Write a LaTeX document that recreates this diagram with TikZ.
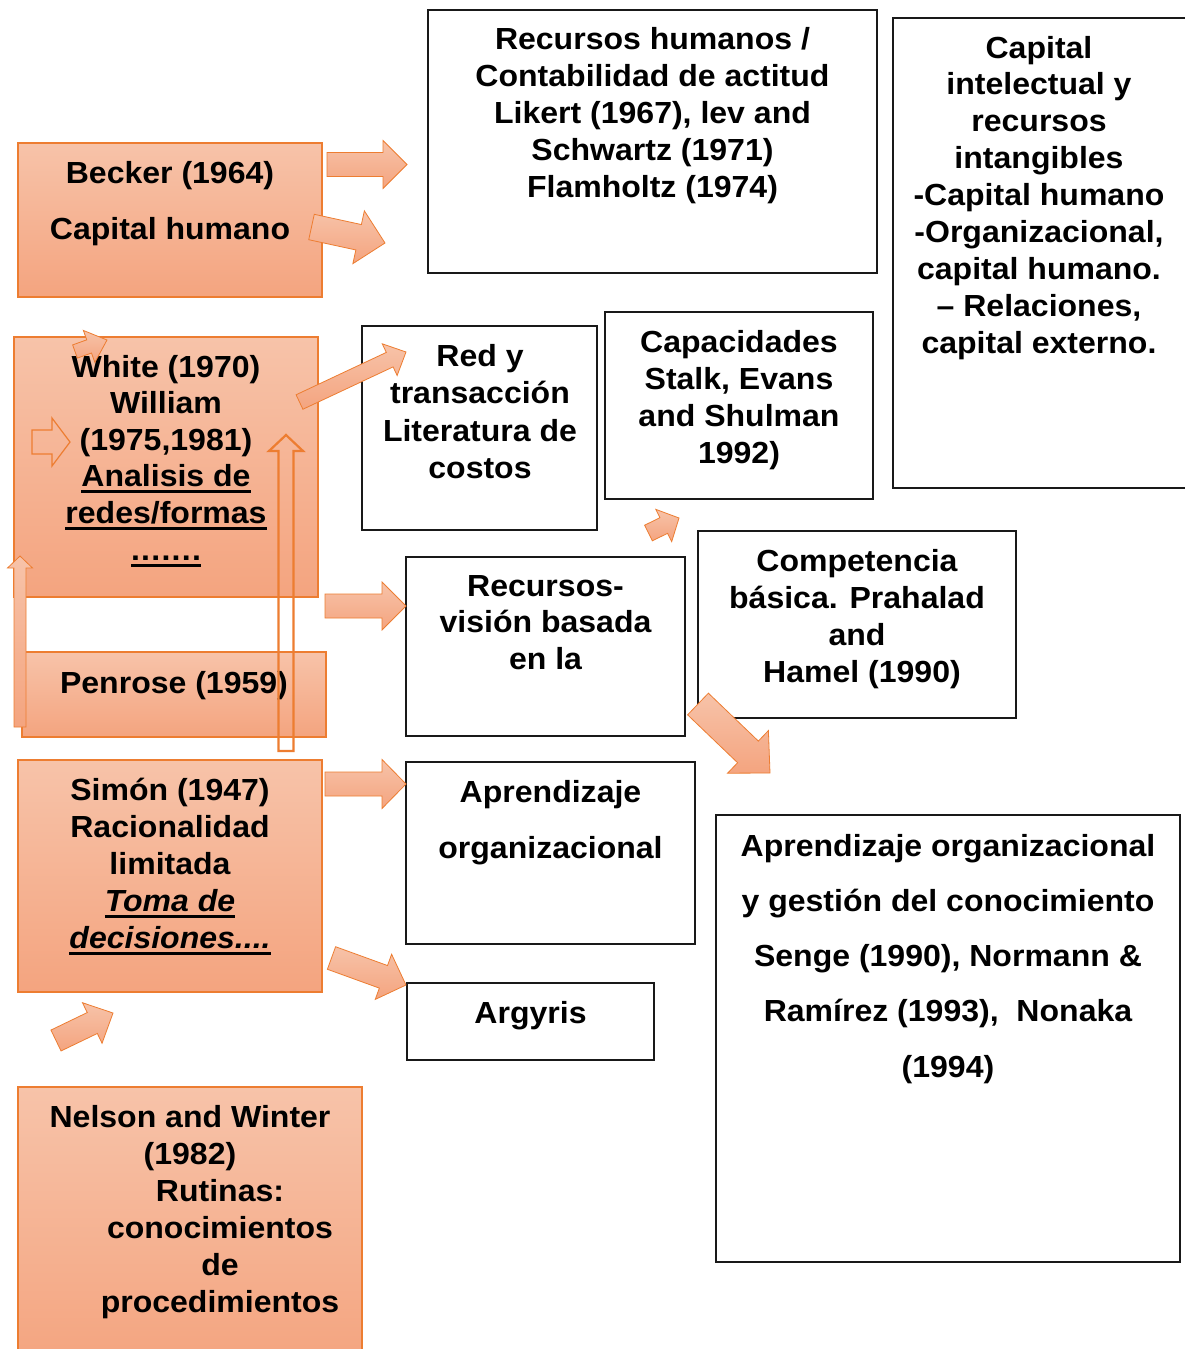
\documentclass[tikz,border=0pt]{standalone}
\usepackage{fontspec}
\setmainfont{Liberation Sans}[FakeStretch=1.05]
\usetikzlibrary{calc}

\definecolor{peachtop}{HTML}{F7C3A9}
\definecolor{peachbot}{HTML}{F4A47F}
\definecolor{edgeorange}{HTML}{ED7D31}

% thick underline placed below the baseline
\newsavebox{\ulsave}
\newcommand{\ulx}[1]{\sbox{\ulsave}{#1}\rlap{\rule[-6.5pt]{\wd\ulsave}{3pt}}\usebox{\ulsave}}
% fixed height for the first line, so the node top sits 26pt above the first baseline
\newcommand{\firstline}{\rule{0pt}{26pt}}

% block arrow: style, start, tip, half body width, half head width, head length
\newcommand{\blockarrow}[6]{%
  \coordinate (#2h) at ($(#3)!#6pt!(#2)$);
  \path[#1] ($(#2)!#4pt!90:(#3)$) -- ($(#2h)!#4pt!90:(#3)$) -- ($(#2h)!#5pt!90:(#3)$)
    -- (#3) -- ($(#2h)!#5pt!-90:(#3)$) -- ($(#2h)!#4pt!-90:(#3)$) -- ($(#2)!#4pt!-90:(#3)$) -- cycle;
}

\begin{document}
\begin{tikzpicture}[x=1pt,y=-1pt,
  peach/.style={rectangle, draw=edgeorange, line width=1.3pt, top color=peachtop, bottom color=peachbot,
    inner sep=0pt, outer sep=0pt, anchor=north west},
  plain/.style={rectangle, draw=black!90, line width=1.2pt, fill=white, inner sep=0pt, outer sep=0pt,
    anchor=north west},
  txt/.style={inner sep=0pt, outer sep=0pt, align=center, anchor=north,
    font=\bfseries\fontsize{30.5}{#1}\selectfont},
  txt/.default=37,
  fillarrow/.style={draw=edgeorange, line width=0.8pt, top color=peachtop, bottom color=peachbot,
    line join=miter},
  outarrow/.style={draw=edgeorange, line width=#1, line join=miter},
]
\useasboundingbox (0,0) rectangle (1184,1349);
\fill[white] (0,0) rectangle (1184,1349);

% ---- white boxes ----
\node[plain, minimum width=449, minimum height=263] (rh) at (428,10) {};
\node[plain, minimum width=307, minimum height=470] (cap) at (893,18) {};
\node[plain, minimum width=235, minimum height=204] (redy) at (362,326) {};
\node[plain, minimum width=268, minimum height=187] (capac) at (605,312) {};
\node[plain, minimum width=279, minimum height=179] (recv) at (406,557) {};
\node[plain, minimum width=318, minimum height=187] (comp) at (698,531) {};
\node[plain, minimum width=289, minimum height=182] (apre) at (406,762) {};
\node[plain, minimum width=247, minimum height=77] (argy) at (407,983) {};
\node[plain, minimum width=464, minimum height=447] (aogc) at (716,815) {};

% ---- shaded boxes ----
\node[peach, minimum width=304, minimum height=154] (becker) at (18,143) {};
\node[peach, minimum width=304, minimum height=260] (white) at (14,337) {};
\node[peach, minimum width=304, minimum height=85] (penrose) at (22,652) {};
\node[peach, minimum width=304, minimum height=232] (simon) at (18,760) {};
\node[peach, minimum width=344, minimum height=280] (nelson) at (18,1087) {};

% ---- texts ----
\node[txt=56] (beckert) at (170,157) {\firstline Becker (1964)\\Capital humano};
\node[txt=37.2] (rht) at (652.5,23) {\firstline Recursos humanos /\\Contabilidad de actitud\\Likert (1967), lev and\\Schwartz (1971)\\Flamholtz (1974)};
\node[txt=36.9] (capt) at (1039,32) {\firstline Capital\\intelectual y\\recursos\\intangibles\\-Capital humano\\-Organizacional,\\capital humano.\\– Relaciones,\\capital externo.};
\node[txt=36.5] (whitet) at (166,351) {\firstline White (1970)\\William\\(1975,1981)\\\ulx{Analisis de}\\\ulx{redes/formas}\\[1pt]\ulx{\makebox[70pt]{.\hfill.\hfill.\hfill.\hfill.\hfill.\hfill.}}};
\node[txt=37.5] (redyt) at (480,340) {\firstline Red y\\transacción\\Literatura de\\costos};
\node[txt=37.3] (capact) at (739,326) {\firstline Capacidades\\Stalk, Evans\\and Shulman\\1992)};
\node[txt=36.9] (recvt) at (545.5,570) {\firstline Recursos-\\visión basada\\en la};
\node[txt=37.3] (compt) at (857,545) {\firstline Competencia\\básica. Prahalad\\and\\\hspace*{10pt}Hamel (1990)};
\node[txt] (penroset) at (174,667) {\firstline Penrose (1959)};
\node[txt=37] (simont) at (170,774) {\firstline Simón (1947)\\Racionalidad\\limitada\\\ulx{\itshape Toma de}\\\ulx{\itshape decisiones....}};
\node[txt=56] (apret) at (550.5,776) {\firstline Aprendizaje\\organizacional};
\node[txt] (argyt) at (530.5,997) {\firstline Argyris};
\node[txt=55.25] (aogct) at (948,830) {\firstline Aprendizaje organizacional\\y gestión del conocimiento\\Senge (1990), Normann \&\\Ramírez (1993),\ \ Nonaka\\(1994)};
\node[txt=37] (nelsont) at (190,1101) {\firstline Nelson and Winter\\(1982)\\\hspace*{60pt}Rutinas:\\\hspace*{60pt}conocimientos\\\hspace*{60pt}de\\\hspace*{60pt}procedimientos};

% ---- block arrows ----
\coordinate (a1s) at (327,164.5);  \coordinate (a1t) at (407,164.5);
\coordinate (a2s) at (311.5,227);  \coordinate (a2t) at (385,243);
\coordinate (a3s) at (75,351.5);   \coordinate (a3t) at (107,340);
\coordinate (a4s) at (32,442);     \coordinate (a4t) at (70,442);
\coordinate (a5s) at (299.5,402);  \coordinate (a5t) at (406,352);
\coordinate (a6s) at (286,751);    \coordinate (a6t) at (286,435);
\coordinate (a7s) at (20,727);     \coordinate (a7t) at (20,556);
\coordinate (a8s) at (325,606);    \coordinate (a8t) at (406,606);
\coordinate (a9s) at (648.5,533);  \coordinate (a9t) at (679,518);
\coordinate (a10s) at (698,704);   \coordinate (a10t) at (770,773);
\coordinate (a11s) at (325,784);   \coordinate (a11t) at (406,784);
\coordinate (a12s) at (331.5,958); \coordinate (a12t) at (406,985);
\coordinate (a13s) at (56,1040.5); \coordinate (a13t) at (113,1013);

\blockarrow{fillarrow}{a1s}{a1t}{12}{24}{24}
\blockarrow{fillarrow}{a2s}{a2t}{13}{27}{27}
\blockarrow{fillarrow}{a3s}{a3t}{7}{17}{19}
\blockarrow{outarrow=1.2pt}{a4s}{a4t}{12}{24}{18}
\blockarrow{fillarrow}{a5s}{a5t}{8}{17.5}{18}
\blockarrow{fillarrow}{a7s}{a7t}{6}{12.5}{12}
\blockarrow{fillarrow}{a8s}{a8t}{12}{24}{24}
\blockarrow{fillarrow}{a9s}{a9t}{8.7}{18}{17}
\blockarrow{fillarrow}{a10s}{a10t}{15}{29.5}{30.5}
\blockarrow{fillarrow}{a11s}{a11t}{12}{24.5}{24}
\blockarrow{fillarrow}{a12s}{a12t}{12}{24}{24}
\blockarrow{fillarrow}{a13s}{a13t}{11.6}{22.5}{23}
\blockarrow{outarrow=2.2pt}{a6s}{a6t}{7.5}{17}{16}
\end{tikzpicture}
\end{document}
